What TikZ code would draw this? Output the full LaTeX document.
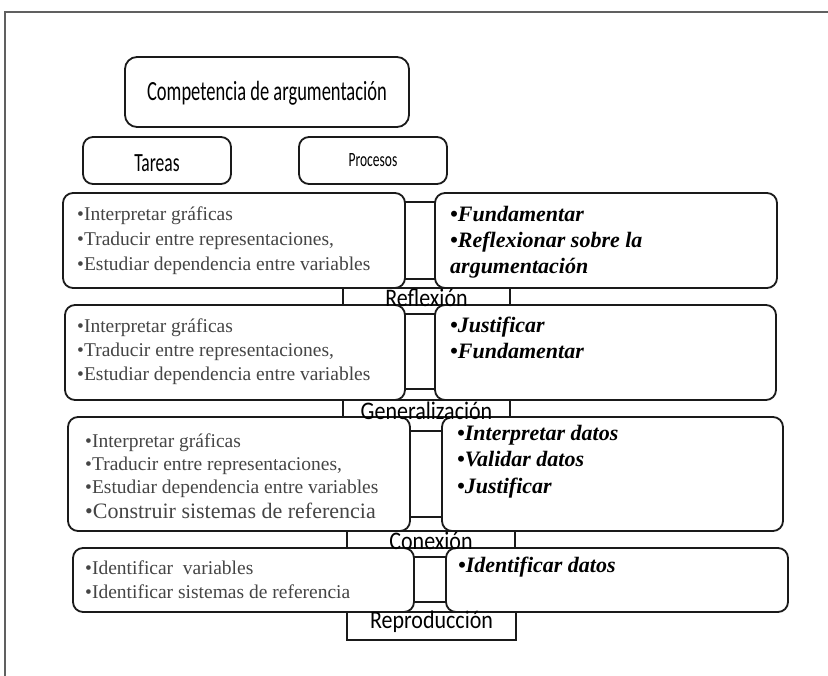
\documentclass[tikz,border=0pt]{standalone}
\usepackage{graphicx}
\usepackage{fontspec}
\setmainfont{Liberation Serif}
\newfontfamily\carl{Carlito}
\usetikzlibrary{fit}
\definecolor{linec}{HTML}{1A1A1A}
\definecolor{txtgray}{HTML}{454545}
\definecolor{framec}{HTML}{606060}
\newcommand{\tallx}[1]{\scalebox{1}[1.5]{#1}}
\newcommand{\talll}[1]{\scalebox{1}[1.15]{#1}}
\begin{document}
\begin{tikzpicture}[x=1pt,y=-1pt,
  box/.style={draw=linec, line width=1.8pt, fill=white, rounded corners=10pt, inner sep=0pt},
  lvl/.style={draw=linec, line width=1.8pt, fill=white, inner sep=0pt},
  gapbox/.style={draw=linec, line width=1.8pt, fill=white, inner sep=0pt},
  ltxt/.style={anchor=north west, align=left, inner sep=0pt, text=txtgray, font=\fontsize{19.5}{25}\selectfont},
  rtxt/.style={anchor=north west, align=left, inner sep=0pt, font=\fontsize{22}{26}\selectfont\bfseries\itshape},
  lbl/.style={anchor=base, inner sep=0pt, font=\carl\fontsize{22}{22}\selectfont},
  head/.style={inner sep=0pt, font=\carl}]
\useasboundingbox (0,0) rectangle (828,676);
\fill[white] (0,0) rectangle (828,676);
\draw[framec, line width=1.5pt] (5,676) -- (5,12) -- (828,12);

% header boxes
\node[box, rounded corners=12pt, fit={(125,57)(409,127)}] (title) {};
\node[head, font=\carl\fontsize{18.5}{20}\selectfont] (titlet) at ([yshift=-1pt]title.center) {\tallx{Competencia de argumentación}};
\node[box, fit={(83,137)(231,184)}] (tareas) {};
\node[head, font=\carl\fontsize{17.5}{20}\selectfont] (tareast) at ([yshift=-3pt]tareas.center) {\tallx{Tareas}};
\node[box, fit={(299,137)(447,184)}] (procesos) {};
\node[head, font=\carl\fontsize{13.5}{16}\selectfont] (procesost) at ([yshift=0pt]procesos.center) {\tallx{Procesos}};

% level rectangles (behind)
\node[lvl, fit={(343,288)(510,305)}] (refr) {};
\node[lvl, fit={(343,400)(510,417)}] (genr) {};
\node[lvl, fit={(347,531)(515,548)}] (conr) {};
\node[lvl, fit={(347,612)(516,640)}] (repr) {};

% connector rectangles between boxes (behind)
\node[gapbox, fit={(395,202)(445,279)}] (g1) {};
\node[gapbox, fit={(395,314)(445,389)}] (g2) {};
\node[gapbox, fit={(400,431)(452,517)}] (g3) {};
\node[gapbox, fit={(404,557)(456,602)}] (g4) {};

% level 1
\node[box, fit={(63,193)(405,288)}] (l1) {};
\node[box, fit={(435,193)(777,288)}] (r1) {};
% level 2
\node[box, fit={(65,305)(405,400)}] (l2) {};
\node[box, fit={(435,305)(776,400)}] (r2) {};
% level 3
\node[box, fit={(68,417)(410,531)}] (l3) {};
\node[box, fit={(442,417)(783,531)}] (r3) {};
% level 4
\node[box, fit={(73,548)(414,612)}] (l4) {};
\node[box, fit={(446,548)(788,612)}] (r4) {};

% texts
\node[ltxt] (l1t) at (77,207) {•Interpretar gráficas\\•Traducir entre representaciones,\\•Estudiar dependencia entre variables};
\node[rtxt] (r1t) at (450,206) {•Fundamentar\\•Reflexionar sobre la\\argumentación};
\node[ltxt, font=\fontsize{19.5}{24}\selectfont] (l2t) at (77,319) {•Interpretar gráficas\\•Traducir entre representaciones,\\•Estudiar dependencia entre variables};
\node[rtxt] (r2t) at (450,317) {•Justificar\\•Fundamentar};
\node[ltxt, font=\fontsize{19.5}{23}\selectfont] (l3t) at (85,434) {•Interpretar gráficas\\•Traducir entre representaciones,\\•Estudiar dependencia entre variables\\[2pt]{\fontsize{22}{24}\selectfont •Construir sistemas de referencia}};
\node[rtxt, font=\fontsize{22}{26.5}\selectfont\bfseries\itshape] (r3t) at (457,425) {•Interpretar datos\\•Validar datos\\•Justificar};
\node[ltxt, font=\fontsize{19.5}{24}\selectfont] (l4t) at (85,561) {•Identificar\ \ variables\\•Identificar sistemas de referencia};
\node[rtxt] (r4t) at (458,557) {•Identificar datos};

% level labels
\node[lbl] (reft) at ([yshift=-1pt]refr.south) {\talll{Reflexión}};
\node[lbl] (gent) at ([yshift=-2pt]genr.south) {\talll{Generalización}};
\node[lbl] (cont) at ([yshift=-1pt]conr.south) {\talll{Conexión}};
\node[lbl] (rept) at (431.5,628) {\talll{Reproducción}};
\end{tikzpicture}
\end{document}
